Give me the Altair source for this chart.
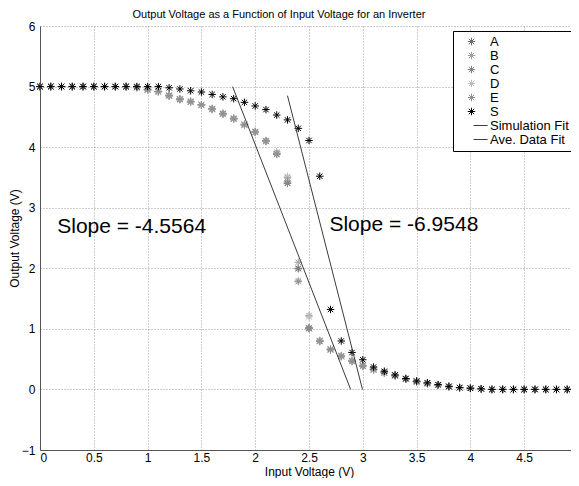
import altair as alt
import pandas as pd

# ---------------- data ----------------
x_in = [0.0, 0.1, 0.2, 0.3, 0.4, 0.5, 0.6, 0.7, 0.8, 0.9,
        1.0, 1.1, 1.2, 1.3, 1.4, 1.5, 1.6, 1.7, 1.8, 1.9,
        2.0, 2.1, 2.2, 2.3, 2.4, 2.5, 2.6, 2.7, 2.8, 2.9,
        3.0, 3.1, 3.2, 3.3, 3.4, 3.5, 3.6, 3.7, 3.8, 3.9,
        4.0, 4.1, 4.2, 4.3, 4.4, 4.5, 4.6, 4.7, 4.8, 4.9, 5.0]

A = [5.0, 5.0, 5.0, 5.0, 5.0, 5.0, 5.0, 5.0, 5.0, 4.99,
     4.95, 4.92, 4.85, 4.79, 4.75, 4.70, 4.63, 4.55, 4.47, 4.37,
     4.25, 4.10, 3.89, 3.41, 2.00, 1.01, 0.80, 0.66, 0.55, 0.47,
     0.39, 0.33, 0.28, 0.23, 0.17, 0.13, 0.10, 0.07, 0.05, 0.03,
     0.02, 0.01, 0.0, 0.0, 0.0, 0.0, 0.0, 0.0, 0.0, 0.0, 0.0]
B = [5.0, 5.0, 5.0, 5.0, 5.0, 5.0, 5.0, 5.0, 5.0, 4.98,
     4.94, 4.91, 4.84, 4.78, 4.74, 4.69, 4.62, 4.54, 4.46, 4.36,
     4.24, 4.09, 3.92, 3.50, 2.10, 1.22, 0.81, 0.67, 0.56, 0.48,
     0.40, 0.34, 0.28, 0.23, 0.18, 0.13, 0.10, 0.07, 0.05, 0.03,
     0.02, 0.01, 0.0, 0.0, 0.0, 0.0, 0.0, 0.0, 0.0, 0.0, 0.0]
C = [5.0, 5.0, 5.0, 5.0, 5.0, 5.0, 5.0, 5.0, 5.0, 4.99,
     4.96, 4.92, 4.86, 4.80, 4.76, 4.70, 4.64, 4.56, 4.48, 4.38,
     4.26, 4.11, 3.88, 3.40, 1.99, 1.02, 0.79, 0.65, 0.54, 0.46,
     0.38, 0.32, 0.27, 0.22, 0.17, 0.12, 0.09, 0.07, 0.04, 0.03,
     0.02, 0.01, 0.0, 0.0, 0.0, 0.0, 0.0, 0.0, 0.0, 0.0, 0.0]
D = [5.0, 5.0, 5.0, 5.0, 5.0, 5.0, 5.0, 5.0, 5.0, 4.98,
     4.95, 4.91, 4.85, 4.79, 4.75, 4.70, 4.63, 4.55, 4.47, 4.37,
     4.25, 4.10, 3.90, 3.52, 1.80, 1.20, 0.80, 0.66, 0.55, 0.47,
     0.39, 0.33, 0.28, 0.23, 0.17, 0.13, 0.10, 0.07, 0.05, 0.03,
     0.02, 0.01, 0.0, 0.0, 0.0, 0.0, 0.0, 0.0, 0.0, 0.0, 0.0]
E = [5.0, 5.0, 5.0, 5.0, 5.0, 5.0, 5.0, 5.0, 5.0, 4.99,
     4.95, 4.92, 4.85, 4.79, 4.75, 4.70, 4.63, 4.55, 4.47, 4.37,
     4.25, 4.10, 3.89, 3.44, 1.78, 1.00, 0.80, 0.66, 0.55, 0.47,
     0.39, 0.33, 0.28, 0.23, 0.17, 0.13, 0.10, 0.07, 0.05, 0.03,
     0.02, 0.01, 0.0, 0.0, 0.0, 0.0, 0.0, 0.0, 0.0, 0.0, 0.0]
S = [5.0, 5.0, 5.0, 5.0, 5.0, 5.0, 5.0, 5.0, 5.0, 5.0,
     5.0, 5.0, 4.98, 4.96, 4.93, 4.91, 4.87, 4.83, 4.80, 4.74,
     4.68, 4.62, 4.53, 4.45, 4.31, 4.11, 3.52, 1.32, 0.80, 0.61,
     0.49, 0.37, 0.30, 0.24, 0.18, 0.14, 0.11, 0.08, 0.05, 0.03,
     0.02, 0.01, 0.0, 0.0, 0.0, 0.0, 0.0, 0.0, 0.0, 0.0, 0.0]

series_names = ["A", "B", "C", "D", "E", "S"]
series_values = [A, B, C, D, E, S]
series_colors = ["#6a6a6a", "#a0a0a0", "#808080", "#bdbdbd", "#8e8e8e", "#000000"]

fit_names = ["Simulation Fit", "Ave. Data Fit"]
fit_colors = ["#3c3c3c", "#3c3c3c"]
sim_fit_x = [2.30, 2.997]
sim_fit_y = [4.85, 0.0]
ave_fit_x = [1.79, 2.887]
ave_fit_y = [5.0, 0.0]

slope_labels = ["Slope = -4.5564", "Slope = -6.9548"]
slope_x = [0.16, 2.69]
slope_y = [2.68, 2.71]

x_ticks = [0, 0.5, 1, 1.5, 2, 2.5, 3, 3.5, 4, 4.5, 5]
y_ticks = [-1, 0, 1, 2, 3, 4, 5, 6]

# ---------------- tables ----------------
rows = []
for name, vals in zip(series_names, series_values):
    for xv, yv in zip(x_in, vals):
        rows.append({"x": xv, "y": yv, "series": name})
pts = pd.DataFrame(rows)

fit_rows = []
for xv, yv in zip(sim_fit_x, sim_fit_y):
    fit_rows.append({"x": xv, "y": yv, "series": fit_names[0]})
for xv, yv in zip(ave_fit_x, ave_fit_y):
    fit_rows.append({"x": xv, "y": yv, "series": fit_names[1]})
fits = pd.DataFrame(fit_rows)

txt = pd.DataFrame({"x": slope_x, "y": slope_y, "label": slope_labels})

FONT = "Liberation Sans"
ASTERISK = "M-1,0L1,0M0,-1L0,1M-0.72,-0.72L0.72,0.72M-0.72,0.72L0.72,-0.72"
LEGEND_LINE = "M0.55,0L4.3,0"

all_names = series_names + fit_names
all_colors = series_colors + fit_colors
all_shapes = [ASTERISK] * len(series_names) + [LEGEND_LINE] * len(fit_names)

legend = alt.Legend(
    title=None, orient="none", legendX=413, legendY=5,
    strokeColor="#000000", fillColor="#ffffff", padding=4, cornerRadius=0,
    labelFont=FONT, labelFontSize=13, labelColor="#000000",
    rowPadding=0, symbolOffset=8, labelOffset=12,
    symbolStrokeWidth=1, symbolSize=56,
)

xs = alt.Scale(domain=[0, 5], nice=False, zero=False)
ys = alt.Scale(domain=[-1, 6], nice=False, zero=False)

x_axis = alt.Axis(values=x_ticks, format="~g", title="Input Voltage (V)",
                  grid=True, ticks=False, tickSize=0, labelPadding=2,
                  titleY=25, titleBaseline="alphabetic")
y_axis = alt.Axis(values=y_ticks, format="d", title="Output Voltage (V)",
                  grid=True, ticks=False, tickSize=0, labelPadding=5,
                  titleX=-26, titleY=212, titleAngle=270, titleAlign="center",
                  titleBaseline="middle")

color_enc = alt.Color("series:N", scale=alt.Scale(domain=all_names, range=all_colors), legend=legend)
shape_enc = alt.Shape("series:N", scale=alt.Scale(domain=all_names, range=all_shapes), legend=legend)

points = alt.Chart(pts).mark_point(filled=False, size=56, strokeWidth=1, opacity=1).encode(
    x=alt.X("x:Q", scale=xs, axis=x_axis),
    y=alt.Y("y:Q", scale=ys, axis=y_axis),
    color=color_enc,
    shape=shape_enc,
)

lines = alt.Chart(fits).mark_line(strokeWidth=1).encode(
    x=alt.X("x:Q", scale=xs),
    y=alt.Y("y:Q", scale=ys),
    color=color_enc,
    detail="series:N",
)

texts = alt.Chart(txt).mark_text(align="left", baseline="middle", fontSize=21,
                                 font=FONT, color="#000000").encode(
    x=alt.X("x:Q", scale=xs),
    y=alt.Y("y:Q", scale=ys),
    text="label:N",
)

chart = alt.layer(points, lines, texts).properties(
    width=538, height=424,
    background="#ffffff",
    title=alt.TitleParams("Output Voltage as a Function of Input Voltage for an Inverter",
                          fontSize=11, font=FONT, fontWeight="normal", color="#000000",
                          anchor="middle", offset=7, baseline="alphabetic", frame="group",
                          dy=16, dx=-30),
    padding={"left": 32, "top": 18, "right": -7, "bottom": 28},
    autosize=alt.AutoSizeParams(type="none"),
).configure_view(stroke=None).configure_axis(
    labelFont=FONT, labelFontSize=12, labelColor="#000000",
    titleFont=FONT, titleFontSize=12, titleFontWeight="normal", titleColor="#000000",
    domainColor="#555555", domainWidth=1,
    gridColor="#9a9a9a", gridDash=[1, 2], gridWidth=1, gridOpacity=1,
)

chart.save("out.html", embed_options={"renderer": "svg", "actions": False})
